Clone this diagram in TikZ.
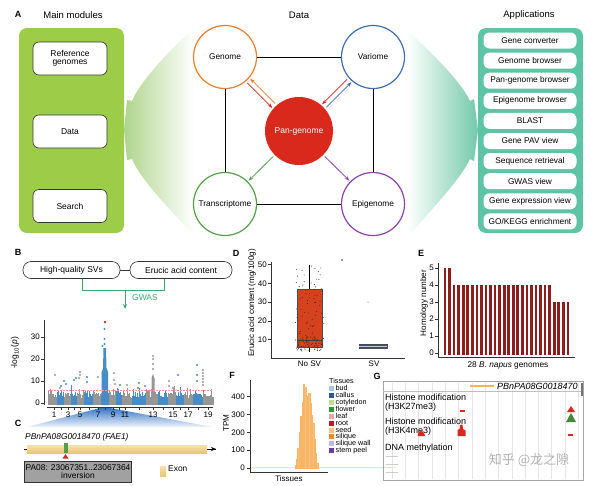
\documentclass[tikz,border=0pt]{standalone}
\usepackage{fontspec}
\setmainfont{Liberation Sans}
\newfontfamily\cjkfont{Noto Sans CJK SC}
\usetikzlibrary{arrows.meta,calc}
\newcommand\fsz[1]{\fontsize{#1}{#1}\selectfont}
\definecolor{greenbox}{RGB}{156,204,72}
\definecolor{tealbox}{RGB}{94,196,165}
\definecolor{fanG}{RGB}{160,205,120}
\definecolor{fanT}{RGB}{100,196,160}
\definecolor{orangeC}{RGB}{238,125,43}
\definecolor{blueC}{RGB}{62,109,176}
\definecolor{greenC}{RGB}{80,160,70}
\definecolor{purpleC}{RGB}{140,64,170}
\definecolor{panred}{RGB}{217,40,28}
\definecolor{gwasG}{RGB}{60,170,110}
\definecolor{mgray}{RGB}{150,150,150}
\definecolor{mblue}{RGB}{70,140,200}
\definecolor{zoomB}{RGB}{58,120,200}
\definecolor{boxred}{RGB}{214,66,30}
\definecolor{svblue}{RGB}{62,74,124}
\definecolor{barred}{RGB}{142,28,28}
\definecolor{seedC}{RGB}{246,194,126}
\definecolor{exonC}{RGB}{234,200,112}
\definecolor{tbud}{RGB}{166,200,224}
\definecolor{tcallus}{RGB}{44,90,140}
\definecolor{tcoty}{RGB}{190,222,140}
\definecolor{tflower}{RGB}{50,150,50}
\definecolor{tleaf}{RGB}{244,160,170}
\definecolor{troot}{RGB}{180,30,40}
\definecolor{tseed}{RGB}{246,194,126}
\definecolor{tsiliq}{RGB}{240,140,40}
\definecolor{tswall}{RGB}{200,180,225}
\definecolor{tstem}{RGB}{106,61,154}
\tikzset{
  panlab/.style={font=\bfseries\fsz{9}, inner sep=0},
  ttl/.style={font=\fsz{9.5}, inner sep=0},
  modbox/.style={draw=black!80, fill=white, rounded corners=6pt, minimum width=74pt, minimum height=33pt, align=center, font=\fsz{8.5}, line width=0.6pt, inner sep=1pt},
  appbox/.style={fill=white, rounded corners=6pt, minimum width=93pt, minimum height=16pt, font=\fsz{8.3}, inner sep=0},
  datac/.style={circle, draw, fill=white, line width=1.2pt, minimum size=63pt, inner sep=0, font=\fsz{8.3}},
  pancirc/.style={circle, fill=panred, minimum size=68pt, inner sep=0, font=\fsz{8.5}, text=white},
  conn/.style={line width=1pt, black},
  arr/.style={line width=0.8pt, -{Stealth[length=5pt,width=3.5pt]}, shorten <=2pt, shorten >=1pt},
  pill/.style={draw=black!80, rounded corners=8pt, minimum height=17pt, font=\fsz{8.5}, inner sep=0, line width=0.6pt},
  tick/.style={font=\fsz{8}, inner sep=1pt},
  axis/.style={line width=0.7pt, black!80},
  legsq/.style={minimum size=5pt, inner sep=0},
  legtx/.style={font=\fsz{7.2}, inner sep=0, anchor=west},
  gtxt/.style={font=\fsz{9}, inner sep=0, anchor=west}
}
\begin{document}
\begin{tikzpicture}[x=1pt,y=-1pt]
\useasboundingbox (0,0) rectangle (600,485);
\fill[white] (0,0) rectangle (600,485);

% ================= A =================
\node[panlab] (labA) at (18,14) {A};
\node[ttl] (tmain) at (73,15) {Main modules};
\node[ttl] (tdata) at (299,15) {Data};
\node[ttl] (tapps) at (529,15) {Applications};

% fans
\shade[left color=fanG!85!white, middle color=fanG!22!white, right color=white]
  (194,28) .. controls (165,55) and (140,82) .. (132,101) -- (127,100) -- (124,130) -- (127,160) -- (132,159)
  .. controls (140,178) and (165,205) .. (194,235) -- cycle;
\shade[left color=white, middle color=fanT!30!white, right color=fanT!90!white]
  (407,30) .. controls (436,57) and (461,82) .. (470,101) -- (474,99) -- (478,130) -- (474,161) -- (470,159)
  .. controls (461,178) and (436,205) .. (407,237) -- cycle;

% left module box
\fill[greenbox, rounded corners=8pt] (19,28) rectangle (124,233);
\node[modbox] (mref) at (70,58.5) {Reference\\genomes};
\node[modbox] (mdata) at (70,131.5) {Data};
\node[modbox] (msearch) at (70,206) {Search};

% right application box
\fill[tealbox, rounded corners=8pt] (478,28) rectangle (583,233);
\foreach \t [count=\k from 0] in {Gene converter, Genome browser, Pan-genome browser, Epigenome browser, BLAST, Gene PAV view, Sequence retrieval, GWAS view, Gene expression view, GO/KEGG enrichment}{
  \pgfmathsetmacro\yy{40.5+20.1*\k}
  \node[appbox] (app\k) at (530,\yy) {\t};
}

% data circles
\node[datac, draw=orangeC] (genome) at (225,57) {Genome};
\node[datac, draw=blueC] (variome) at (373,57) {Variome};
\node[datac, draw=greenC] (transc) at (225,204) {Transcriptome};
\node[datac, draw=purpleC] (epig) at (373,204) {Epigenome};
\node[pancirc] (pan) at (299,131) {Pan-genome};
\draw[conn] (genome) -- (variome);
\draw[conn] (genome) -- (transc);
\draw[conn] (transc) -- (epig);
\draw[conn] (variome) -- (epig);
\draw[arr, panred, transform canvas={shift={(-1.8pt,-1.8pt)}}] (genome) -- (pan);
\draw[arr, orangeC, transform canvas={shift={(1.8pt,1.8pt)}}] (pan) -- (genome);
\draw[arr, panred, transform canvas={shift={(-1.8pt,1.8pt)}}] (variome) -- (pan);
\draw[arr, blueC, transform canvas={shift={(1.8pt,-1.8pt)}}] (pan) -- (variome);
\draw[arr, greenC] (pan) -- (transc);
\draw[arr, purpleC] (pan) -- (epig);

% ================= B =================
\node[panlab] (labB) at (18,252) {B};
\node[pill, minimum width=97pt] (hq) at (71.5,270) {High-quality SVs};
\node[pill, minimum width=102pt] (eru) at (181,270) {Erucic acid content};
\draw[line width=0.6pt, black!80] (hq) -- (eru);
\coordinate (brL) at (82,279);
\coordinate (brR) at (164,279);
\draw[gwasG, line width=0.8pt] (brL) -- (82,290) -- (164,290) -- (brR);
\coordinate (gwtop) at (125,290);
\coordinate (gwend) at (125,309);
\draw[gwasG, line width=0.8pt, -{Stealth[length=5pt,width=4pt]}] (gwtop) -- (gwend);
\node[font=\fsz{8.5}, text=gwasG, inner sep=0] (gwas) at (145,298) {GWAS};

% zoom triangle (behind the axis labels)
\shade[top color=zoomB, bottom color=zoomB!8] (100,408) -- (110,408) -- (213,427) -- (27,427) -- cycle;

% Manhattan plot
\pgfmathsetseed{11}
\foreach \a/\b/\cc in {48/57.5/mgray,57.5/64.5/mblue,64.5/71/mgray,71/77/mblue,77/84.5/mgray,84.5/93.5/mblue,93.5/101.5/mgray,101.5/109/mblue,109/116/mgray,116/122/mblue,122/132/mgray,132/146/mblue,146/158/mgray,158/168/mblue,168/176.5/mgray,176.5/184/mblue,184/193/mgray,193/203/mblue,203/213/mgray}{
  \pgfmathsetmacro\xs{\a+0.55}
  \foreach \x in {\a,\xs,...,\b}{
    \pgfmathsetmacro\yy{403-2.2*(2+5*rnd*rnd+1.5*rnd)}
    \draw[\cc, line width=0.75pt] (\x,405) -- (\x,\yy);
  }
}
% chr8 spike
\fill[mblue] (101.5,405) -- (101.5,372) -- (103,369) -- (103.5,348) -- (106,348) -- (106.5,368) -- (108,372) -- (108,405) -- cycle;
\foreach \px/\py in {104.5/344,104.5/339,104.5/329,102.5/346}{\fill[mblue] (\px,\py) circle (1.1pt);}
\fill[panred] (105,322) circle (1.3pt);
% chr13 column
\fill[mgray] (151.5,405) -- (151.5,378) -- (153,374) -- (154.5,378) -- (154.5,405) -- cycle;
% extra dots
\foreach \px/\py in {55/375,80/372,80/375,79/378,98/377,114/373,114/380,115/384,153/356,153/359,153/364,153/369,169/381,169/386,173/388,203/370,203/373,203/376,203/379,203/382,203/385,127/385,60/388}{\fill[mgray] (\px,\py) circle (1.1pt);}
\foreach \px/\py in {64/381,66/384,74/380,76/378,87/377,87/382,120/385,139/383,138/388,178/375,197/365,197/375,197/381,61/386,145/386}{\fill[mblue] (\px,\py) circle (1.1pt);}
\draw[red!40, line width=0.4pt, dash pattern=on 1.5pt off 1.5pt] (48,390) -- (213,390);
% axes
\draw[axis] (44,320) -- (44,405);
\foreach \v in {0,10,20,30}{
  \pgfmathsetmacro\yy{403-2.2*\v}
  \draw[axis] (41,\yy) -- (44,\yy);
  \node[tick, anchor=east] (my\v) at (41,\yy) {\v};
}
\node[rotate=90, font=\fsz{8.5}, inner sep=0] (mylab) at (15,353) {-log\textsubscript{10}(\textit{p})};
\draw[axis] (47,407) -- (213,407);
\foreach \cx [count=\k] in {54,61,68,74,80,89,98,105,113,119,125,139,153,163,173,180,188,198,208}{
  \draw[axis] (\cx,407) -- (\cx,410);
}
\foreach \cx/\lab in {54/1,68/3,80/5,98/7,113/9,125/11,153/13,173/15,188/17,208/19}{
  \node[tick] (mx\lab) at (\cx,414.5) {\lab};
}

% ================= C =================
\node[panlab] (labC) at (18,423) {C};
\node[font=\itshape\fsz{8.4}, inner sep=0, anchor=west] (gname) at (25,437) {PBnPA08G0018470 (FAE1)};
\coordinate (gl) at (24,449);
\coordinate (gr) at (216,449);
\draw[line width=0.8pt] (gl) -- (gr);
\draw[-{Stealth[length=5pt,width=4pt]}, line width=0.8pt] (207,449) -- (gr);
\shade[top color=exonC!55, bottom color=exonC] (27,445) rectangle (207,453);
\fill[greenC] (64,443) rectangle (68,453);
\fill[panred] (62.5,458.5) -- (65.5,454) -- (68.5,458.5) -- cycle;
\node[draw=black!80, fill=black!37, minimum width=107pt, minimum height=21pt, align=center, font=\fsz{8.4}, inner sep=0, line width=0.6pt] (invbox) at (78,471.5) {PA08: 23067351..23067364\\[-1pt]inversion};
\shade[top color=exonC!55, bottom color=exonC] (160,466) rectangle (166,476);
\node[font=\fsz{8.4}, inner sep=0, anchor=west] (exon) at (168,469) {Exon};

% ================= D =================
\node[panlab] (labD) at (236,253) {D};
\draw[axis] (271,262) -- (271,358) -- (405,358);
\foreach \v in {10,20,30,40,50}{
  \pgfmathsetmacro\yy{358.5-1.88*\v}
  \draw[axis] (268,\yy) -- (271,\yy);
  \node[tick, anchor=east] (dy\v) at (268,\yy) {\v};
}
\node[rotate=90, font=\fsz{8.1}, inner sep=0] (dylab) at (252,303) {Erucic acid content (mg/100g)};
\draw[line width=0.6pt] (309.5,265) -- (309.5,289);
\draw[line width=0.6pt] (309.5,347) -- (309.5,352);
\filldraw[fill=boxred, draw=black!70, line width=0.5pt] (297,289) rectangle (322,347);
\draw[line width=1pt, black!75] (297,340) -- (322,340);
\pgfmathsetseed{5}
\foreach \i in {1,...,75}{
  \pgfmathsetmacro\px{295+29*rnd}
  \pgfmathsetmacro\py{265+85*rnd}
  \fill[black!85] (\px,\py) circle (0.5pt);
}
\foreach \i in {1,...,55}{
  \pgfmathsetmacro\px{295+29*rnd}
  \pgfmathsetmacro\py{337+14*rnd}
  \fill[black!85] (\px,\py) circle (0.5pt);
}
\filldraw[fill=svblue, draw=black!70, line width=0.5pt] (359,344) rectangle (387,348.5);
\draw[white!70!svblue, line width=0.5pt] (359,346.2) -- (387,346.2);
\fill[black!80] (368,302) circle (0.5pt);
\fill[black!80] (342,260) circle (0.8pt);
\node[tick] (dnosv) at (309.5,364) {No SV};
\node[tick] (dsv) at (374,364) {SV};

% ================= E =================
\node[panlab] (labE) at (421,253) {E};
\draw[axis] (438,263) -- (438,357) -- (575,357);
\foreach \v in {0,...,5}{
  \pgfmathsetmacro\yy{353-17*\v}
  \draw[axis] (435,\yy) -- (438,\yy);
  \node[tick, anchor=east] (ey\v) at (435,\yy) {\v};
}
\foreach \i in {0,...,27}{
  \pgfmathsetmacro\v{\i<2 ? 5 : (\i<24 ? 4 : 3)}
  \pgfmathsetmacro\bx{445+\i*4.55}
  \pgfmathsetmacro\bl{\bx-1.35}
  \pgfmathsetmacro\br{\bx+1.35}
  \pgfmathsetmacro\bt{353-17*\v}
  \fill[barred] (\bl,355) rectangle (\br,\bt);
}
\node[rotate=90, font=\fsz{8.1}, inner sep=0] (eylab) at (424,303) {Homology number};
\node[font=\fsz{8.3}, inner sep=0] (exlab) at (508,365) {28 \textit{B. napus} genomes};

% ================= F =================
\node[panlab] (labF) at (232,375) {F};
\draw[orange!25, line width=0.6pt] (252,467) -- (396,467);
\foreach \t [count=\k] in {15,50,110,200,290,370,470,455,405,370,420,365,300,250,160,85,30}{
  \pgfmathsetmacro\bl{293.5+\k*1.35}
  \pgfmathsetmacro\br{\bl+1.3}
  \pgfmathsetmacro\bt{468-0.178*\t}
  \filldraw[fill=seedC, draw=seedC!80!orange, line width=0.2pt] (\bl,468) rectangle (\br,\bt);
}
\draw[axis] (250,380) -- (250,472) -- (328,472);
\foreach \v in {0,100,200,300,400}{
  \pgfmathsetmacro\yy{468-0.178*\v}
  \draw[axis] (247,\yy) -- (250,\yy);
  \node[tick, anchor=east] (fy\v) at (246,\yy) {\v};
}
\node[rotate=90, font=\fsz{8.1}, inner sep=0] (fylab) at (226,423) {TPM};
\node[tick] (fxlab) at (289,478.5) {Tissues};
\node[legtx] (ltit) at (329,381) {Tissues};
\foreach \cl/\tx [count=\k from 0] in {tbud/bud,tcallus/callus,tcoty/cotyledon,tflower/flower,tleaf/leaf,troot/root,tseed/seed,tsiliq/silique,tswall/silique wall,tstem/stem peel}{
  \pgfmathsetmacro\yy{388.3+6.95*\k}
  \node[legsq, fill=\cl] (lsq\k) at (331.5,\yy) {};
  \node[legtx] (ltx\k) at (335.5,\yy) {\tx};
}

% ================= G =================
\node[panlab] (labG) at (377,376) {G};
\draw[black!35, line width=0.6pt] (383,381) rectangle (583,480);
\foreach \k in {0,...,14}{
  \pgfmathsetmacro\gx{392+13.3*\k}
  \draw[black!10, line width=0.4pt] (\gx,383) -- (\gx,479);
}
\draw[black!25, line width=0.4pt] (383,391) -- (583,391);
\fill[black!55] (580.5,383) rectangle (582.5,396);
\fill[exonC!80!orange] (470,385) rectangle (494,387);
\node[font=\itshape\fsz{9}, inner sep=0, anchor=west] (gid) at (497,386) {PBnPA08G0018470};
\node[gtxt] (h1) at (385,397) {Histone modification};
\node[gtxt] (h1b) at (385,407.5) {(H3K27me3)};
\node[gtxt] (h2) at (385,421) {Histone modification};
\node[gtxt] (h2b) at (385,431.5) {(H3K4me3)};
\node[gtxt] (dna) at (385,448) {DNA methylation};
\fill[panred] (460,410) rectangle (464.5,412);
\fill[panred] (457.5,436) -- (457.5,430) -- (459.5,429) -- (460,425) -- (462.5,424.5) -- (463,429) -- (465.5,430.5) -- (465.5,436) -- cycle;
\fill[panred] (417.5,436) -- (418.5,432) -- (421.5,430.5) -- (424,433) -- (425,436) -- cycle;
\fill[panred] (567,412) -- (571,406) -- (575,412) -- cycle;
\fill[greenC!85!black] (566,422) -- (571,413) -- (576,422) -- cycle;
\fill[panred] (568,433.5) rectangle (573,435.5);
\foreach \yy in {456,464,472}{\draw[black!20, line width=0.4pt] (386,\yy) -- (398,\yy);}
\node[font=\cjkfont\fsz{13}, text=black!30, inner sep=0] (wm) at (529,460) {知乎 @龙之隙};
\end{tikzpicture}
\end{document}
